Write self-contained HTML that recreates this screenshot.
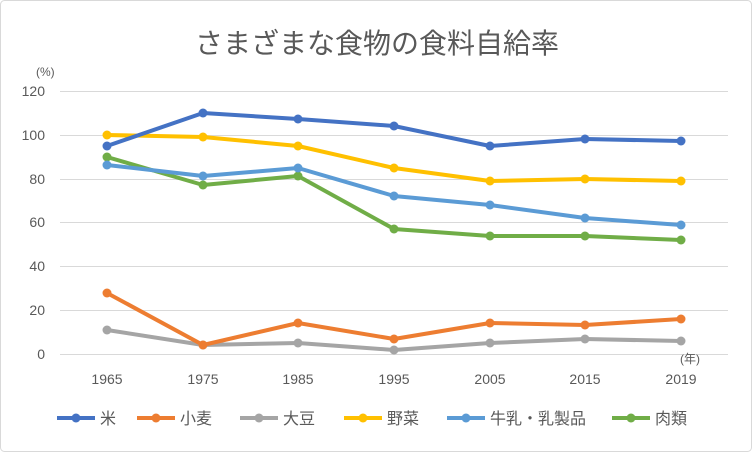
<!DOCTYPE html>
<html><head><meta charset="utf-8"><style>
body{margin:0;background:#fff}
svg text{font-family:"Liberation Sans","Noto Sans CJK JP",sans-serif;fill:#595959}
</style></head><body>
<svg width="752" height="452" viewBox="0 0 752 452">
<rect x="0.5" y="0.5" width="751" height="451" rx="4" fill="#fff" stroke="#d9d9d9"/>
<text x="377" y="53" font-size="28" text-anchor="middle">さまざまな食物の食料自給率</text>
<g stroke="#d9d9d9" stroke-width="1">
<line x1="60" x2="728" y1="91.5" y2="91.5"/><line x1="60" x2="728" y1="135.5" y2="135.5"/>
<line x1="60" x2="728" y1="179.5" y2="179.5"/><line x1="60" x2="728" y1="222.5" y2="222.5"/>
<line x1="60" x2="728" y1="266.5" y2="266.5"/><line x1="60" x2="728" y1="310.5" y2="310.5"/>
<line x1="60" x2="728" y1="354.5" y2="354.5"/>
</g>
<g font-size="14" text-anchor="end">
<text x="45" y="96">120</text><text x="45" y="140">100</text><text x="45" y="184">80</text>
<text x="45" y="227">60</text><text x="45" y="271">40</text><text x="45" y="315">20</text><text x="45" y="359">0</text>
</g>
<text x="36" y="76" font-size="12">(%)</text>
<text x="680" y="363" font-size="12">(年)</text>
<g font-size="14" text-anchor="middle">
<text x="107" y="384">1965</text><text x="203" y="384">1975</text><text x="298" y="384">1985</text>
<text x="394" y="384">1995</text><text x="490" y="384">2005</text><text x="585" y="384">2015</text><text x="681" y="384">2019</text>
</g>
<g fill="none" stroke-width="4" stroke-linejoin="round">
<polyline stroke="#A5A5A5" points="107,330 203,345 298,343 394,350 490,343 585,339 681,341"/>
<polyline stroke="#ED7D31" points="107,293 203,345 298,323 394,339 490,323 585,325 681,319"/>
<polyline stroke="#70AD47" points="107,157 203,185 298,176 394,229 490,236 585,236 681,240"/>
<polyline stroke="#5B9BD5" points="107,165 203,176 298,168 394,196 490,205 585,218 681,225"/>
<polyline stroke="#FFC000" points="107,135 203,137 298,146 394,168 490,181 585,179 681,181"/>
<polyline stroke="#4472C4" points="107,146 203,113 298,119 394,126 490,146 585,139 681,141"/>
</g>
<g fill="#A5A5A5"><circle cx="107" cy="330" r="4.5"/><circle cx="203" cy="345" r="4.5"/><circle cx="298" cy="343" r="4.5"/><circle cx="394" cy="350" r="4.5"/><circle cx="490" cy="343" r="4.5"/><circle cx="585" cy="339" r="4.5"/><circle cx="681" cy="341" r="4.5"/></g>
<g fill="#ED7D31"><circle cx="107" cy="293" r="4.5"/><circle cx="203" cy="345" r="4.5"/><circle cx="298" cy="323" r="4.5"/><circle cx="394" cy="339" r="4.5"/><circle cx="490" cy="323" r="4.5"/><circle cx="585" cy="325" r="4.5"/><circle cx="681" cy="319" r="4.5"/></g>
<g fill="#70AD47"><circle cx="107" cy="157" r="4.5"/><circle cx="203" cy="185" r="4.5"/><circle cx="298" cy="176" r="4.5"/><circle cx="394" cy="229" r="4.5"/><circle cx="490" cy="236" r="4.5"/><circle cx="585" cy="236" r="4.5"/><circle cx="681" cy="240" r="4.5"/></g>
<g fill="#5B9BD5"><circle cx="107" cy="165" r="4.5"/><circle cx="203" cy="176" r="4.5"/><circle cx="298" cy="168" r="4.5"/><circle cx="394" cy="196" r="4.5"/><circle cx="490" cy="205" r="4.5"/><circle cx="585" cy="218" r="4.5"/><circle cx="681" cy="225" r="4.5"/></g>
<g fill="#FFC000"><circle cx="107" cy="135" r="4.5"/><circle cx="203" cy="137" r="4.5"/><circle cx="298" cy="146" r="4.5"/><circle cx="394" cy="168" r="4.5"/><circle cx="490" cy="181" r="4.5"/><circle cx="585" cy="179" r="4.5"/><circle cx="681" cy="181" r="4.5"/></g>
<g fill="#4472C4"><circle cx="107" cy="146" r="4.5"/><circle cx="203" cy="113" r="4.5"/><circle cx="298" cy="119" r="4.5"/><circle cx="394" cy="126" r="4.5"/><circle cx="490" cy="146" r="4.5"/><circle cx="585" cy="139" r="4.5"/><circle cx="681" cy="141" r="4.5"/></g>
<g font-size="16">
<line x1="57" x2="95" y1="418" y2="418" stroke="#4472C4" stroke-width="4"/><circle cx="76" cy="418" r="4.5" fill="#4472C4"/><text x="100" y="424">米</text>
<line x1="137" x2="175" y1="418" y2="418" stroke="#ED7D31" stroke-width="4"/><circle cx="156" cy="418" r="4.5" fill="#ED7D31"/><text x="180" y="424">小麦</text>
<line x1="240" x2="278" y1="418" y2="418" stroke="#A5A5A5" stroke-width="4"/><circle cx="259" cy="418" r="4.5" fill="#A5A5A5"/><text x="283" y="424">大豆</text>
<line x1="344" x2="382" y1="418" y2="418" stroke="#FFC000" stroke-width="4"/><circle cx="363" cy="418" r="4.5" fill="#FFC000"/><text x="387" y="424">野菜</text>
<line x1="447" x2="485" y1="418" y2="418" stroke="#5B9BD5" stroke-width="4"/><circle cx="466" cy="418" r="4.5" fill="#5B9BD5"/><text x="490" y="424">牛乳・乳製品</text>
<line x1="612" x2="650" y1="418" y2="418" stroke="#70AD47" stroke-width="4"/><circle cx="631" cy="418" r="4.5" fill="#70AD47"/><text x="655" y="424">肉類</text>
</g>
</svg>
</body></html>
